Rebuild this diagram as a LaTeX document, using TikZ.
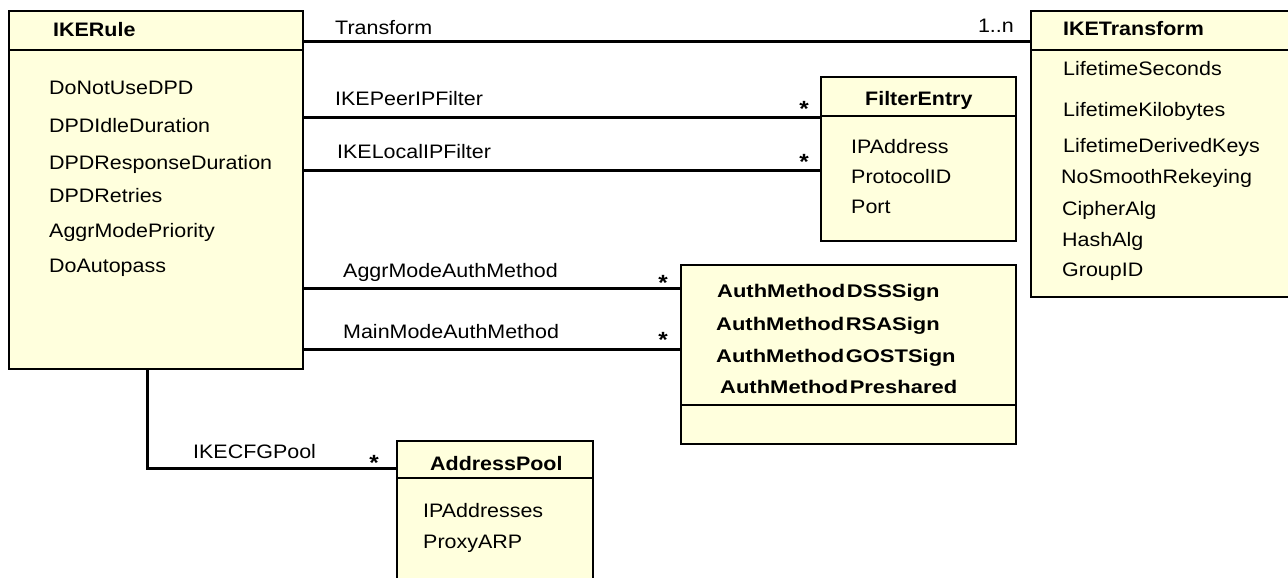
\documentclass[tikz,border=0pt]{standalone}
\usepackage{fontspec}
\setmainfont{Liberation Sans}[FakeStretch=1.1]
\newfontfamily\amfont{Liberation Sans}[FakeStretch=1.2]
\definecolor{boxfill}{RGB}{255,255,221}
\tikzset{
 cls/.style={draw=black, line width=2pt, fill=boxfill, inner sep=0, anchor=north west},
 sepline/.style={line width=1.6pt},
 assoc/.style={line width=3pt},
 attr/.style={anchor=base west, inner sep=0, font=\fontsize{19.5}{23}\selectfont},
 ttl/.style={anchor=base west, inner sep=0, font=\fontsize{19.5}{23}\selectfont\bfseries},
 am/.style={anchor=base west, inner sep=0, font=\amfont\fontsize{18.3}{22}\selectfont\bfseries},
 mult/.style={anchor=base, inner sep=0, font=\fontsize{22}{26}\selectfont\bfseries},
 lbl/.style={anchor=base west, inner sep=0, font=\fontsize{19.5}{23}\selectfont},
}
\begin{document}
\begin{tikzpicture}[x=1pt,y=-1pt]
\useasboundingbox (0,0) rectangle (1288,578);
\clip (0,0) rectangle (1288,578);

% boxes
\node[cls, minimum width=294pt, minimum height=358pt] (rule) at (8,10) {};
\node[cls, minimum width=280pt, minimum height=286pt] (xform) at (1030,10) {};
\node[cls, minimum width=195pt, minimum height=164pt] (filter) at (820,76) {};
\node[cls, minimum width=335pt, minimum height=179pt] (auth) at (680,264) {};
\node[cls, minimum width=196pt, minimum height=170pt] (pool) at (396,440) {};

% compartment separators
\draw[sepline] (rule.west |- 0,50) -- (rule.east |- 0,50);
\draw[sepline] (xform.west |- 0,50) -- (xform.east |- 0,50);
\draw[sepline] (filter.west |- 0,116) -- (filter.east |- 0,116);
\draw[sepline] (auth.west |- 0,405) -- (auth.east |- 0,405);
\draw[sepline] (pool.west |- 0,478) -- (pool.east |- 0,478);

% IKERule
\node[ttl] (ruleT) at (53,37) {IKERule};
\node[attr] (r1) at (49,94) {DoNotUseDPD};
\node[attr] (r2) at (49,132) {DPDIdleDuration};
\node[attr] (r3) at (49,169) {DPDResponseDuration};
\node[attr] (r4) at (49,202) {DPDRetries};
\node[attr] (r5) at (49,237) {AggrModePriority};
\node[attr] (r6) at (49,272) {DoAutopass};

% IKETransform
\node[ttl] (xformT) at (1063,36) {IKETransform};
\node[attr] (t1) at (1063,76) {LifetimeSeconds};
\node[attr] (t2) at (1063,116) {LifetimeKilobytes};
\node[attr] (t3) at (1063,152) {LifetimeDerivedKeys};
\node[attr] (t4) at (1061,183) {NoSmoothRekeying};
\node[attr] (t5) at (1062,215) {CipherAlg};
\node[attr] (t6) at (1062,246) {HashAlg};
\node[attr] (t7) at (1062,276) {GroupID};

% FilterEntry
\node[ttl] (filterT) at (865,106) {FilterEntry};
\node[attr] (f1) at (851,153) {IPAddress};
\node[attr] (f2) at (851,183) {ProtocolID};
\node[attr] (f3) at (851,213) {Port};

% AuthMethod
\node[am] (a1) at (717,297) {AuthMethod\hspace{1.5pt}DSSSign};
\node[am] (a2) at (716,330) {AuthMethod\hspace{1.5pt}RSASign};
\node[am] (a3) at (716,362) {AuthMethod\hspace{1.5pt}GOSTSign};
\node[am] (a4) at (720,393) {AuthMethod\hspace{1.5pt}Preshared};

% AddressPool
\node[ttl] (poolT) at (430,470) {AddressPool};
\node[attr] (p1) at (423,517) {IPAddresses};
\node[attr] (p2) at (423,548) {ProxyARP};

% associations
\draw[assoc] (rule.east |- 0,42) -- (xform.west |- 0,42);
\draw[assoc] (rule.east |- 0,117) -- (filter.west |- 0,117);
\draw[assoc] (rule.east |- 0,170) -- (filter.west |- 0,170);
\draw[assoc] (rule.east |- 0,288) -- (auth.west |- 0,288);
\draw[assoc] (rule.east |- 0,349) -- (auth.west |- 0,349);
\draw[assoc] (rule.south -| 147,0) |- (pool.west |- 0,468);

% association labels
\node[lbl] (lT) at (335,35) {Transform};
\node[lbl] (lP) at (335,106) {IKEPeerIPFilter};
\node[lbl] (lL) at (337,158) {IKELocalIPFilter};
\node[lbl] (lA) at (343,277) {AggrModeAuthMethod};
\node[lbl] (lM) at (343,338) {MainModeAuthMethod};
\node[lbl] (lC) at (193,458) {IKECFGPool};

% multiplicities
\node[anchor=base east, inner sep=0, font=\fontsize{19.5}{23}\selectfont] (m1) at (1014,33) {1..n};
\node[mult] (m2) at (804,116) {*};
\node[mult] (m3) at (804,169) {*};
\node[mult] (m4) at (663,290) {*};
\node[mult] (m5) at (663,347) {*};
\node[mult] (m6) at (374,470) {*};
\end{tikzpicture}
\end{document}
